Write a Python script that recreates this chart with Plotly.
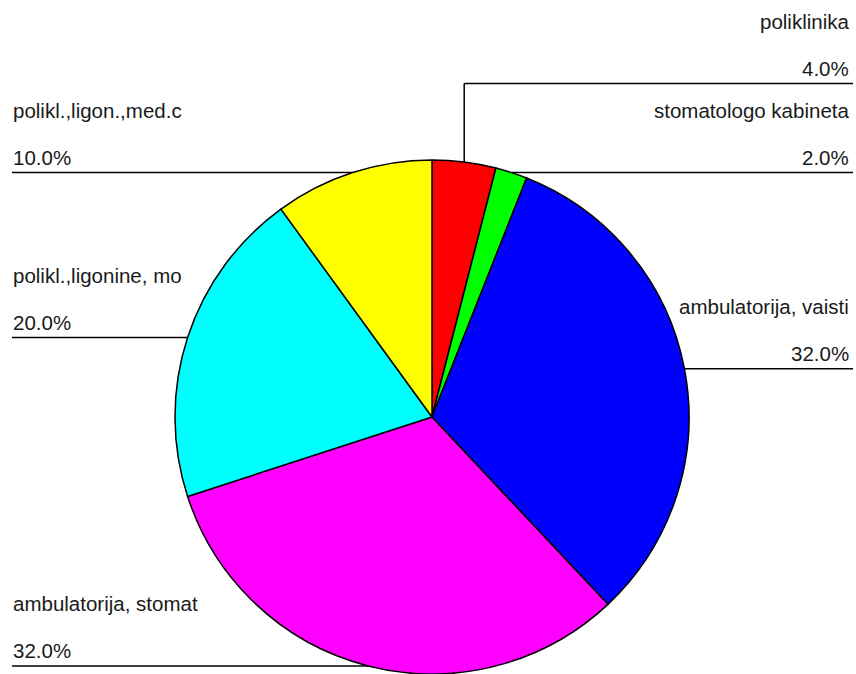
import math
import plotly.graph_objects as go

labels = ["poliklinika", "stomatologo kabineta", "ambulatorija, vaisti",
          "ambulatorija, stomat", "polikl.,ligonine, mo", "polikl.,ligon.,med.c"]
values = [4.0, 2.0, 32.0, 32.0, 20.0, 10.0]
colors = ["#ff0000", "#00ff00", "#0000ff", "#ff00ff", "#00ffff", "#ffff00"]

W, H = 856, 674
dom_x = [175 / W, 689 / W]
dom_y = [0.0, 514 / H]

# pie geometry in pixels (derived from domain)
cx = (dom_x[0] + dom_x[1]) / 2 * W
cy = H - (dom_y[0] + dom_y[1]) / 2 * H
r = min((dom_x[1] - dom_x[0]) * W, (dom_y[1] - dom_y[0]) * H) / 2

def px(x):
    return x / W

def py(y):
    return 1 - y / H

fig = go.Figure(go.Pie(
    labels=labels, values=values, sort=False, direction="clockwise", rotation=0,
    marker=dict(colors=colors, line=dict(color="black", width=1.5)),
    textinfo="none", hoverinfo="label+percent", showlegend=False,
    domain=dict(x=dom_x, y=dom_y),
))

total = sum(values)
anchors = []
cum = 0.0
for lab, v in zip(labels, values):
    mid = (cum + v / 2) / total * 2 * math.pi
    cum += v
    ax = cx + r * math.sin(mid)
    ay = cy - r * math.cos(mid)
    anchors.append((lab, v, ax, ay))

right = sorted([a for a in anchors if a[2] >= cx], key=lambda a: -a[3])
left = sorted([a for a in anchors if a[2] < cx], key=lambda a: -a[3])

GAP = 89
shapes = []
annotations = []
font = dict(family="Liberation Sans, Arial, sans-serif", size=20.5, color="#1a1a1a")
LINE = dict(color="black", width=1.5)

def place(group, side):
    prev = None
    for lab, v, ax, ay in group:
        ly = ay if prev is None else min(ay, prev - GAP)
        prev = ly
        if side == "right":
            x_end = W - 3
            if abs(ly - ay) > 3:
                shapes.append(dict(type="line", xref="paper", yref="paper",
                                   x0=px(ax), y0=py(ay), x1=px(ax), y1=py(ly),
                                   line=LINE, layer="below"))
            shapes.append(dict(type="line", xref="paper", yref="paper",
                               x0=px(ax), y0=py(ly), x1=px(x_end), y1=py(ly),
                               line=LINE, layer="below"))
            tx, anchor = px(W - 5), "right"
        else:
            x_end = 12
            shapes.append(dict(type="line", xref="paper", yref="paper",
                               x0=px(x_end), y0=py(ly), x1=px(ax), y1=py(ly),
                               line=LINE, layer="below"))
            tx, anchor = px(11), "left"
        annotations.append(dict(x=tx, y=py(ly - 62), xref="paper", yref="paper",
                                text=lab, showarrow=False, xanchor=anchor,
                                yanchor="middle", font=font))
        annotations.append(dict(x=tx, y=py(ly - 15), xref="paper", yref="paper",
                                text=f"{v / total * 100:.1f}%", showarrow=False,
                                xanchor=anchor, yanchor="middle", font=font))

place(right, "right")
place(left, "left")

fig.update_layout(
    width=W, height=H, margin=dict(l=0, r=0, t=0, b=0),
    paper_bgcolor="white", plot_bgcolor="white",
    shapes=shapes, annotations=annotations,
)
fig.write_html("out.html", config={"displayModeBar": False},
               post_script="document.body.style.margin='0';document.body.style.overflow='hidden';")
